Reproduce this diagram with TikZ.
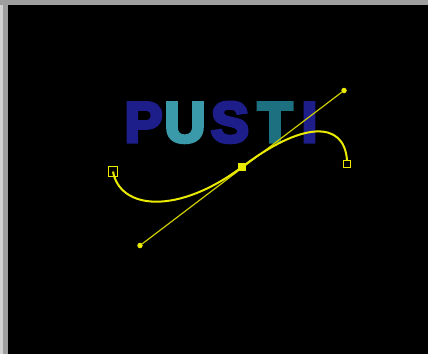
\documentclass[tikz,border=0pt]{standalone}
\usepackage{fontspec}
\newfontfamily\logofont{Liberation Sans}[BoldFeatures={FakeBold=6}]
\definecolor{logoblue}{RGB}{30,30,138}
\definecolor{logoteal}{RGB}{58,154,170}
\definecolor{logotealdark}{RGB}{28,112,128}
\definecolor{pathyellow}{RGB}{235,235,0}
\definecolor{handleyellow}{RGB}{205,205,0}
\begin{document}
\begin{tikzpicture}[
  x=1pt, y=-1pt,
  letter/.style={
    anchor=base, inner sep=0pt,
    font=\logofont\bfseries\fontsize{57}{60}\selectfont
  },
  curve/.style={draw=pathyellow, line width=2pt},
  handle/.style={draw=handleyellow, line width=1.2pt},
  knob/.style={circle, fill=pathyellow, inner sep=0pt, minimum size=5.5pt},
  anchorbox/.style={draw=pathyellow, line width=1.4pt, inner sep=0pt, fill=black}
]
\useasboundingbox (0,0) rectangle (428,354);

% ================= FRAME =================
\fill[gray!75] (0,0) rectangle (428,354);
\fill[gray!35] (0,5) rectangle (3,354);
\fill[black] (8,5) rectangle (428,354);

% ================= WORD =================
\node[letter, text=logoblue]     (p) at (143.5,142) {P};
\node[letter, text=logoteal]     (u) at (185,142)   {U};
\node[letter, text=logoblue]     (s) at (230,142)   {S};
\node[letter, text=logotealdark] (t) at (275,142)   {T};
\node[letter, text=logoblue]     (i) at (309.5,142) {I};

% ================= HANDLE =================
\node[knob] (hin)  at (140,245.5) {};
\node[knob] (hout) at (344,90.5) {};
\draw[handle] (hin) -- (hout);

% ================= ANCHORS =================
\node[anchorbox, minimum size=9.5pt] (a1) at (113,171.5) {};
\node[anchorbox, minimum size=6.5pt] (a3) at (347,164) {};

% path
\draw[curve] (a1.center) .. controls (120,210) and (178,215) .. (242,167)
  .. controls (301.7,121.6) and (344,120) .. (a3.north);

\node[anchorbox, fill=pathyellow, minimum size=7pt] (a2) at (242,167) {};

\end{tikzpicture}
\end{document}
